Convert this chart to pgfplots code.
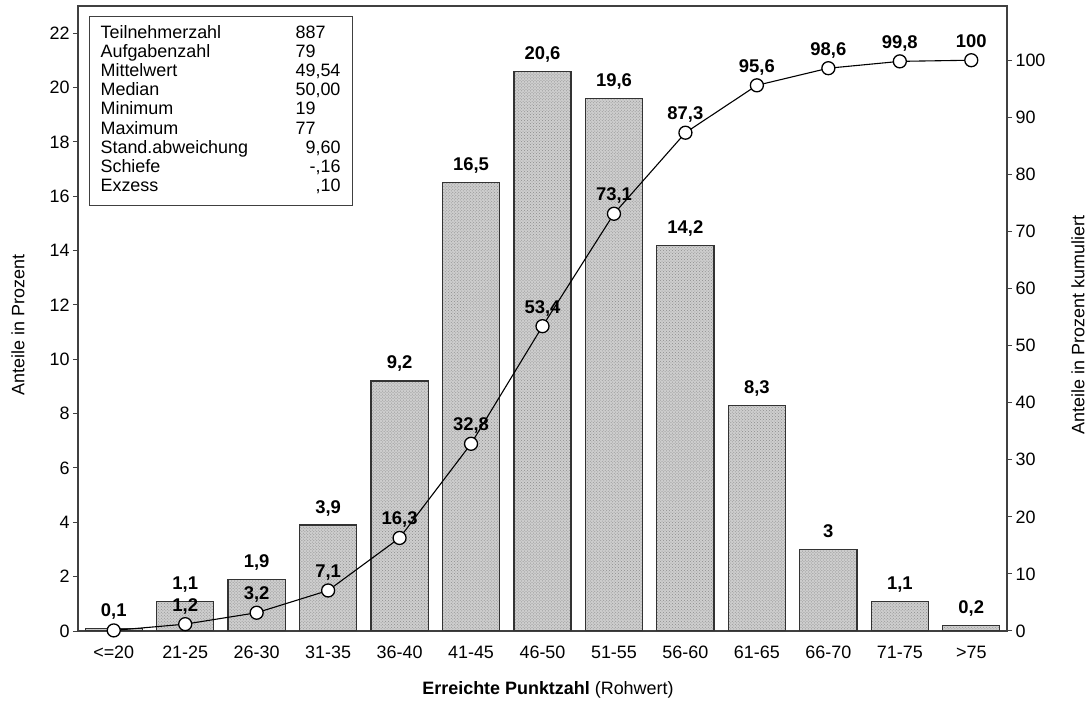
\documentclass[border=0pt]{standalone}
\usepackage{fontspec}
\setmainfont{Liberation Sans}
\usepackage{pgfplots}
\usepackage{pgfplotstable}
\pgfplotsset{compat=1.18}
\usetikzlibrary{patterns}
\pgfplotsset{/pgf/number format/assume math mode=true,/pgf/number format/use comma}

\pgfplotstableread{
x y c
0 0.1 0.1
1 1.1 1.2
2 1.9 3.2
3 3.9 7.1
4 9.2 16.3
5 16.5 32.8
6 20.6 53.4
7 19.6 73.1
8 14.2 87.3
9 8.3 95.6
10 3 98.6
11 1.1 99.8
12 0.2 100
}\data

\newcommand{\f}{\fontsize{18}{19.3}\selectfont}
\newcommand{\fb}{\fontsize{18.5}{19.3}\selectfont\bfseries}

\begin{document}
\begin{tikzpicture}
\begin{axis}[
  scale only axis, width=929bp, height=625bp,
  xmin=-0.5, xmax=12.5, ymin=0, ymax=23,
  xtick={0,...,12},
  xticklabels={{<=20},21-25,26-30,31-35,36-40,41-45,46-50,51-55,56-60,61-65,66-70,71-75,{>75}},
  ytick={0,2,...,22},
  ytick pos=left, tick align=outside,
  major tick length=5bp,
  x tick style={draw=none},
  xticklabel style={anchor=north, text height=13bp, text depth=4bp, yshift=-6bp},
  tick style={black!75, line width=1bp},
  axis line style={black!75, line width=1.3bp},
  tick label style={font=\f},
  ybar, bar width=0.8,
  nodes near coords,
  every node near coord/.append style={font=\fb, anchor=base, yshift=12bp, inner sep=0pt},
]
\addplot[draw=black!80, line width=1.2bp, fill={rgb,255:red,206;green,206;blue,206},
  postaction={pattern=crosshatch dots, pattern color=black!45}] table[x=x,y=y]{\data};
\coordinate (ll) at (rel axis cs:0,0);
\node[draw=black!75, line width=1.2bp, anchor=north west, inner xsep=0pt, inner ysep=8bp, fill=white]
  at ([xshift=11bp,yshift=-10bp]rel axis cs:0,1) {\f
  \begin{tabular}{@{\hspace{11bp}}p{195bp}@{}p{45bp}@{\hspace{12bp}}}
  Teilnehmerzahl & 887\\
  Aufgabenzahl & 79\\
  Mittelwert & 49,54\\
  Median & 50,00\\
  Minimum & 19\\
  Maximum & 77\\
  Stand.abweichung & \hfill 9,60\\
  Schiefe & \hfill -,16\\
  Exzess & \hfill ,10
  \end{tabular}};
\end{axis}
\begin{axis}[
  scale only axis, width=929bp, height=625bp,
  xmin=-0.5, xmax=12.5, ymin=0, ymax=109.5,
  axis y line*=right, axis x line=none,
  ytick={0,10,...,100},
  tick align=outside, major tick length=5bp,
  tick style={black!75, line width=1bp},
  axis line style={black!75, line width=1.3bp},
  tick label style={font=\f},
]
\addplot[black, line width=1.1bp, mark=*, mark size=6.5bp,
  mark options={fill=white, draw=black, line width=1.3bp}] table[x=x,y=c]{\data};
\addplot[draw=none, no marks, nodes near coords,
  skip coords between index={0}{1},
  every node near coord/.append style={font=\fb, anchor=base, yshift=13bp, inner sep=0pt}]
  table[x=x,y=c]{\data};
\end{axis}
\path (ll) ++(-60bp,306bp) node[rotate=90,font=\f]{Anteile in Prozent};
\path (ll) ++(1000bp,306bp) node[rotate=90,font=\f]{Anteile in Prozent kumuliert};
\path (ll) ++(470bp,-59bp) node[font=\f]{\textbf{Erreichte Punktzahl} (Rohwert)};
\pgfresetboundingbox
\path (ll) ++(-78bp,-74bp) rectangle ++(1092bp,705bp);
\end{tikzpicture}
\end{document}
